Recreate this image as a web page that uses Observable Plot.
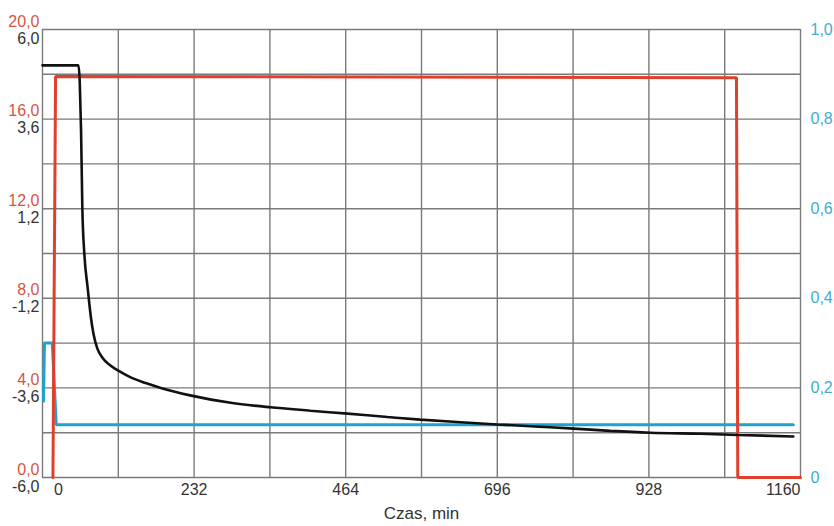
<!DOCTYPE html>
<html><head><meta charset="utf-8">
<script src="https://cdn.jsdelivr.net/npm/d3@7"></script>
<script src="https://cdn.jsdelivr.net/npm/@observablehq/plot@0.6"></script>
<style>html,body{margin:0;padding:0;background:#fff}</style>
</head><body><div id="chart"></div>
<script>
// Time ticks (min)
const xTicks = [0, 232, 464, 696, 928, 1160];
const xGrid = d3.range(0, 1161, 116);
// Left axis (red) labels and black axis labels
const redTicks = [0, 4, 8, 12, 16, 20];
const redTickLabels = ["0,0", "4,0", "8,0", "12,0", "16,0", "20,0"];
const blackTickLabels = ["-6,0", "-3,6", "-1,2", "1,2", "3,6", "6,0"];
// Right axis (blue)
const blueTicks = [0, 0.2, 0.4, 0.6, 0.8, 1.0];
const blueTickLabels = ["0", "0,2", "0,4", "0,6", "0,8", "1,0"];

// Red series (left red axis, 0..20)
const redT = [16, 20, 1062, 1064, 1160];
const redV = [0, 17.9, 17.85, 0, 0];
// Black series (left black axis, -6..6)
const blackT = [0, 55, 57, 59, 61, 64, 69, 74, 78, 84, 92, 104, 120, 135, 158, 181, 226, 288, 349, 410, 467, 528, 578, 640, 696, 760, 813, 869, 930, 1007, 1064, 1149];
const blackV = [5.04, 5.04, 4.6, 3.3, 1.2, 0.0, -0.9, -1.7, -2.15, -2.55, -2.80, -3.00, -3.18, -3.32, -3.47, -3.60, -3.80, -4.00, -4.12, -4.21, -4.29, -4.38, -4.45, -4.52, -4.58, -4.64, -4.69, -4.75, -4.80, -4.83, -4.86, -4.90];
// Blue series (right axis, 0..1)
const blueT = [1.5, 3, 15, 21, 1149];
const blueV = [0.17, 0.30, 0.30, 0.118, 0.118];

const red = redT.map((t, i) => ({t, y: redV[i]}));
const black = blackT.map((t, i) => ({t, y: (blackV[i] + 6) / 12 * 20}));
const blue = blueT.map((t, i) => ({t, y: blueV[i] * 20}));
const left = redTicks.map((v, i) => ({v, r: redTickLabels[i], b: blackTickLabels[i]}));
const right = blueTicks.map((v, i) => ({v: v * 20, l: blueTickLabels[i]}));

const RED = "#e0402b", REDL = "#d5553f", BLUE = "#1fa2cf", BLUEL = "#3eaed3";

const chart = Plot.plot({
  width: 834, height: 526,
  marginLeft: 42, marginRight: 34, marginTop: 29, marginBottom: 49,
  x: {domain: [0, 1160], axis: null},
  y: {domain: [0, 20], axis: null},
  style: {fontFamily: "'Liberation Sans', Arial, sans-serif", fontSize: "16px", background: "#fff"},
  marks: [
    Plot.ruleX(xGrid, {stroke: "#7a7a7a", strokeWidth: 1.4, strokeOpacity: 1}),
    Plot.ruleY(d3.range(0, 20.01, 2), {stroke: "#7a7a7a", strokeWidth: 1.4, strokeOpacity: 1}),
    Plot.line(blue, {x: "t", y: "y", stroke: BLUE, strokeWidth: 3, strokeLinejoin: "miter"}),
    Plot.line(red, {x: "t", y: "y", stroke: RED, strokeWidth: 3, strokeLinejoin: "miter"}),
    Plot.line(black, {x: "t", y: "y", stroke: "#111", strokeWidth: 2.6, curve: "monotone-x", strokeLinejoin: "miter"}),
    // x tick labels
    Plot.text(xTicks.filter(d => d > 0 && d < 1160), {x: d => d, frameAnchor: "bottom", dy: 17, text: d => String(d), fill: "#333"}),
    Plot.text([0], {x: d => d, frameAnchor: "bottom", dy: 17, dx: 16, text: d => String(d), fill: "#333"}),
    Plot.text([1160], {x: d => d, frameAnchor: "bottom", dy: 17, textAnchor: "end", text: d => String(d), fill: "#333"}),
    Plot.text(["Czas, min"], {frameAnchor: "bottom", dy: 41, text: d => d, fill: "#333", fontSize: 17}),
    // left labels
    Plot.text(left, {y: "v", frameAnchor: "left", textAnchor: "end", dx: -3, dy: -8, text: "r", fill: REDL}),
    Plot.text(left, {y: "v", frameAnchor: "left", textAnchor: "end", dx: -3, dy: 9, text: "b", fill: "#333"}),
    // right labels
    Plot.text(right, {y: "v", frameAnchor: "right", textAnchor: "start", dx: 10, text: "l", fill: BLUEL})
  ]
});
document.getElementById("chart").appendChild(chart);
</script>
</body></html>
